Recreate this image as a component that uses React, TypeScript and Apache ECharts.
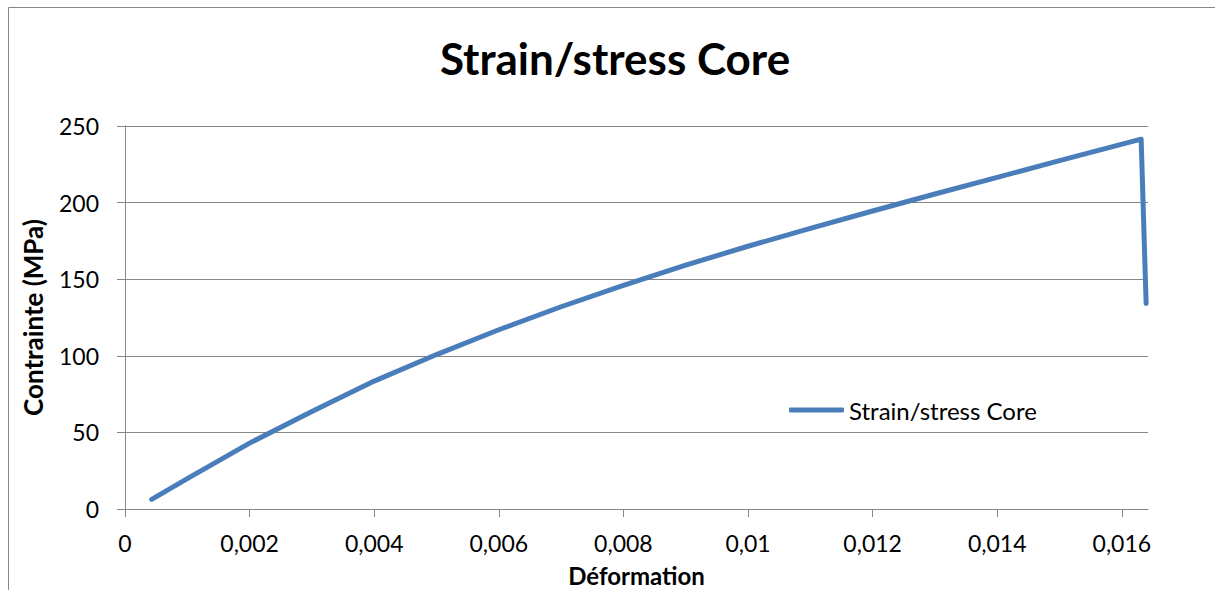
import React, { useEffect, useRef } from "react";
import * as echarts from "echarts";

const titleText = "Strain/stress Core";
const seriesName = "Strain/stress Core";
const xAxisName = "Déformation";
const yAxisName = "Contrainte (MPa)";

const strain = [
  0.000428, 0.001, 0.002, 0.003, 0.004, 0.005, 0.006, 0.007, 0.008, 0.009, 0.01,
  0.011, 0.012, 0.013, 0.014, 0.015, 0.01631, 0.01639,
];
const stress = [
  6.3, 19.8, 43, 63.7, 83.5, 100.8, 117, 132, 146, 159.2, 171.5, 183.2, 194.5, 205.6,
  216.5, 227.4, 241.4, 134.2,
];
const xTicks = [0, 0.002, 0.004, 0.006, 0.008, 0.01, 0.012, 0.014, 0.016];
const yTicks = [0, 50, 100, 150, 200, 250];

const FONT = "Lato";
const GRAY = "#868686";
const BLUE = "#4a7ebb";

export default function App() {
  const ref = useRef<HTMLDivElement>(null);
  useEffect(() => {
    document.body.style.margin = "0";
    if (!ref.current) return;
    const chart = echarts.init(ref.current, null, { renderer: "svg" });
    const fmt = (v: number) =>
      parseFloat(Number(v).toFixed(6)).toString().replace(".", ",");
    chart.setOption({
      animation: false,
      backgroundColor: "#ffffff",
      textStyle: { fontFamily: FONT },
      title: {
        text: titleText,
        left: 610,
        textAlign: "center",
        top: 31,
        textStyle: { fontFamily: FONT, fontSize: 44, fontWeight: "bold", color: "#000" },
      },
      graphic: [
        {
          type: "rect",
          shape: { x: 8.5, y: 7.5, width: 1400, height: 800 },
          style: { fill: "none", stroke: GRAY, lineWidth: 1 },
          silent: true,
          z: -1,
        },
      ],
      legend: {
        left: 784,
        top: 393,
        itemWidth: 55,
        itemHeight: 5,
        data: [{ name: seriesName, icon: "roundRect" }],
        itemStyle: { color: BLUE },
        textStyle: { fontFamily: FONT, fontSize: 24, color: "#000" },
      },
      grid: {
        left: 125,
        top: 126,
        right: 67,
        bottom: 81,
        containLabel: false,
        outerBoundsMode: "none",
      },
      xAxis: {
        type: "value",
        min: 0,
        max: 0.01642,
        interval: 0.002,
        name: xAxisName,
        nameLocation: "middle",
        nameGap: 54,
        nameTextStyle: { fontFamily: FONT, fontSize: 24, fontWeight: "bold", color: "#000" },
        axisLine: { show: true, lineStyle: { color: GRAY, width: 1 } },
        axisTick: { show: true, length: 8, lineStyle: { color: GRAY }, customValues: xTicks },
        axisLabel: {
          customValues: xTicks,
          formatter: fmt,
          margin: 22,
          fontFamily: FONT,
          fontSize: 23,
          color: "#000",
        },
        splitLine: { show: false },
      },
      yAxis: {
        type: "value",
        min: 0,
        max: 250,
        interval: 50,
        name: yAxisName,
        nameLocation: "middle",
        nameGap: 79,
        nameRotate: 90,
        nameTextStyle: { fontFamily: FONT, fontSize: 26, fontWeight: "bold", color: "#000" },
        axisLine: { show: true, lineStyle: { color: GRAY, width: 1 } },
        axisTick: { show: true, length: 8, lineStyle: { color: GRAY }, customValues: yTicks },
        axisLabel: { margin: 26, fontFamily: FONT, fontSize: 23, color: "#000" },
        splitLine: { show: true, lineStyle: { color: GRAY, width: 1 } },
      },
      series: [
        {
          name: seriesName,
          type: "line",
          symbol: "none",
          smooth: false,
          data: strain.map((x, i) => [x, stress[i]]),
          lineStyle: { color: BLUE, width: 5, cap: "round", join: "round" },
          itemStyle: { color: BLUE },
        },
      ],
    });
    return () => chart.dispose();
  }, []);
  return <div ref={ref} style={{ width: 1215, height: 590 }} />;
}
